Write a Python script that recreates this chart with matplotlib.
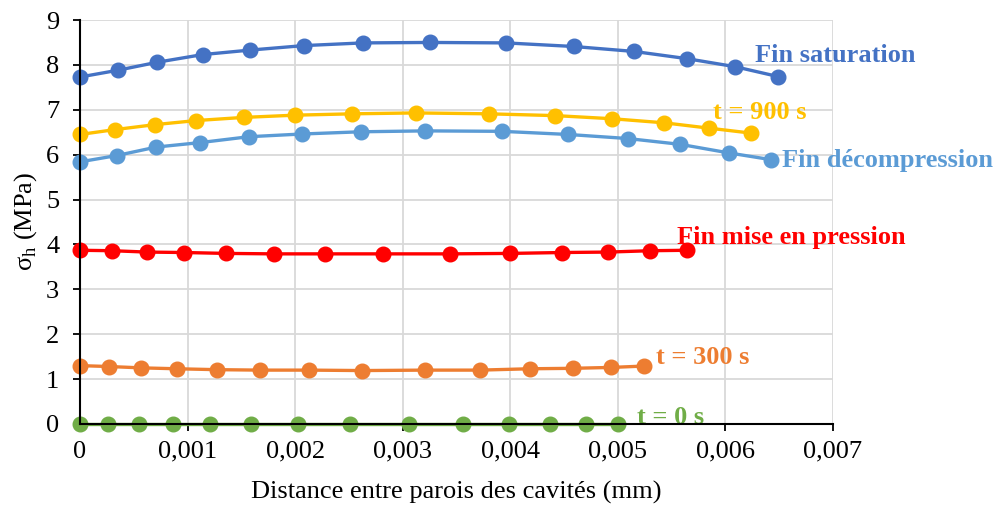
import matplotlib
matplotlib.use("Agg")
import matplotlib.pyplot as plt

plt.rcParams['font.family'] = ['Liberation Serif', 'DejaVu Serif']

# data (distance in mm, sigma_h in MPa)
x_sat = [0.0, 0.00035, 0.00072, 0.00114, 0.00158, 0.00208, 0.00263, 0.00325, 0.00396,
         0.00459, 0.00515, 0.00564, 0.00609, 0.00649]
y_sat = [7.73, 7.88, 8.06, 8.23, 8.33, 8.43, 8.49, 8.50, 8.49, 8.41, 8.30, 8.14, 7.96, 7.74]

x_900 = [0.0, 0.00033, 0.00070, 0.00108, 0.00152, 0.00200, 0.00253, 0.00312, 0.00380,
         0.00442, 0.00495, 0.00543, 0.00585, 0.00624]
y_900 = [6.45, 6.56, 6.67, 6.76, 6.83, 6.88, 6.91, 6.93, 6.91, 6.87, 6.80, 6.71, 6.59, 6.48]

x_dec = [0.0, 0.00034, 0.00071, 0.00112, 0.00157, 0.00206, 0.00261, 0.00321, 0.00392,
         0.00454, 0.00509, 0.00558, 0.00603, 0.00642]
y_dec = [5.84, 5.98, 6.17, 6.27, 6.40, 6.46, 6.51, 6.53, 6.52, 6.45, 6.36, 6.23, 6.04, 5.89]

x_pre = [0.0, 0.00030, 0.00062, 0.00097, 0.00136, 0.00180, 0.00228, 0.00282, 0.00344,
         0.00400, 0.00448, 0.00491, 0.00530, 0.00564]
y_pre = [3.87, 3.86, 3.83, 3.82, 3.80, 3.79, 3.79, 3.79, 3.79, 3.80, 3.82, 3.83, 3.86, 3.87]

x_300 = [0.0, 0.00027, 0.00057, 0.00090, 0.00127, 0.00167, 0.00213, 0.00262, 0.00321,
         0.00372, 0.00418, 0.00458, 0.00494, 0.00524]
y_300 = [1.30, 1.28, 1.25, 1.23, 1.21, 1.20, 1.20, 1.19, 1.20, 1.20, 1.23, 1.24, 1.26, 1.29]

x_0 = [0.0, 0.00026, 0.00055, 0.00086, 0.00121, 0.00159, 0.00203, 0.00251, 0.00306,
       0.00356, 0.00399, 0.00437, 0.00470, 0.00500]
y_0 = [0.0] * 14

# label anchor (left, baseline) in data units
series = [
    (x_sat, y_sat, '#4472C4', 'Fin saturation', (0.006275, 8.07)),
    (x_900, y_900, '#FFC000', 't = 900 s', (0.005884, 6.80)),
    (x_dec, y_dec, '#5B9BD5', 'Fin décompression', (0.006523, 5.72)),
    (x_pre, y_pre, '#FF0000', 'Fin mise en pression', (0.005547, 4.02)),
    (x_300, y_300, '#ED7D31', 't = 300 s', (0.005352, 1.345)),
    (x_0, y_0, '#70AD47', 't = 0 s', (0.005175, 0.01)),
]

fig = plt.figure(figsize=(10, 5.08), dpi=100)
ax = fig.add_axes([0.08, 0.1654, 0.753, 0.7952])

for xs, ys, col, name, pos in series:
    ax.plot(xs, ys, color=col, lw=2.4, marker='o', ms=10.5, clip_on=False, zorder=3)
    ax.text(pos[0], pos[1], name, color=col, fontsize=19, fontweight='bold',
            ha='left', va='baseline', clip_on=False, zorder=2)

ax.set_xlim(0, 0.007)
ax.set_ylim(0, 9)
xt = [i * 0.001 for i in range(8)]
ax.set_xticks(xt)
ax.set_xticklabels(['0'] + ['0,00%d' % i for i in range(1, 8)])
ax.set_yticks(range(10))
ax.grid(True, color='#D9D9D9', lw=1.3)
ax.set_axisbelow(True)
for s in ['top', 'right']:
    ax.spines[s].set_visible(False)
for s in ['left', 'bottom']:
    ax.spines[s].set_linewidth(1.5)
    ax.spines[s].set_zorder(5)
ax.tick_params(labelsize=19, length=5, width=1.3)
ax.tick_params(axis='x', pad=7)
ax.tick_params(axis='y', pad=10)

fig.text(0.4565, 1 - 492 / 508, 'Distance entre parois des cavités (mm)',
         fontsize=19, ha='center', va='center')
fig.text(0.026, 1 - 221 / 508, r'σ$_\mathregular{h}$ (MPa)', fontsize=19,
         ha='center', va='center', rotation=90)

fig.savefig('out.png', dpi=100)
